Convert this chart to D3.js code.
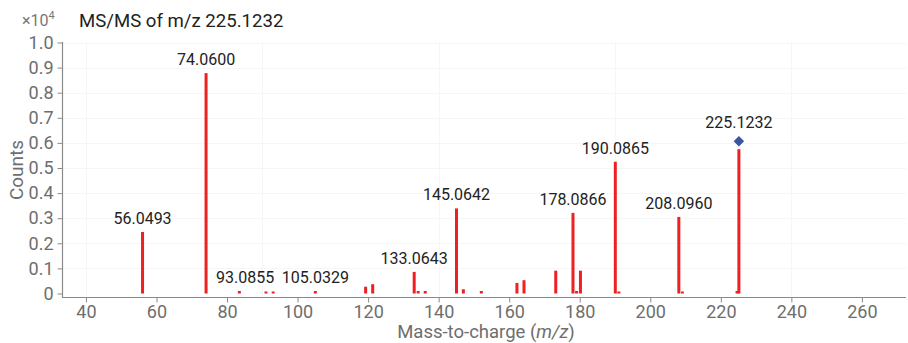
<!DOCTYPE html>
<html><head><meta charset="utf-8">
<script src="https://cdn.jsdelivr.net/npm/d3@7"></script>
<style>
html,body{margin:0;padding:0;background:#fff;}
text{font-family:Roboto,"Noto Sans",sans-serif;}
</style></head>
<body><svg id="c" width="908" height="343"></svg>
<script>
// m/z of each peak
const peakMz = [56.0493, 74.0600, 83.5, 91.05, 93.0855, 105.0329, 119.3, 121.3, 133.0643, 134.2, 136.2,
  145.0642, 147.0, 152.1, 162.2, 164.2, 173.2, 178.0866, 179.1, 180.2, 190.0865, 191.1, 208.0960, 209.1, 224.6, 225.1232];
// intensity (x10^4 counts)
const peakCounts = [0.245, 0.878, 0.010, 0.008, 0.008, 0.010, 0.027, 0.037, 0.086, 0.010, 0.010,
  0.339, 0.017, 0.010, 0.042, 0.053, 0.091, 0.321, 0.010, 0.091, 0.525, 0.008, 0.305, 0.008, 0.010, 0.575];
const labelledMz = [56.0493, 74.0600, 93.0855, 105.0329, 133.0643, 145.0642, 178.0866, 190.0865, 208.0960, 225.1232];
const precursorMz = 225.1232;
const xTicks = [40, 60, 80, 100, 120, 140, 160, 180, 200, 220, 240, 260];
const yTicks = [0, 0.1, 0.2, 0.3, 0.4, 0.5, 0.6, 0.7, 0.8, 0.9, 1.0];
const xDomain = [33.5, 272.5];
const yDomain = [0, 1.0];

const svg = d3.select("#c");
const x = d3.scaleLinear().domain(xDomain).range([63, 906]);
const y = d3.scaleLinear().domain(yDomain).range([293.5, 42.5]);
const axisY = 297.5;
const peaks = peakMz.map((m, i) => ({mz: m, c: peakCounts[i]}));

// faint grid
const g = svg.append("g");
g.selectAll("line.h").data(yTicks.slice(1)).join("line")
  .attr("x1", 63).attr("x2", 906).attr("y1", d => Math.round(y(d)) + 0.5).attr("y2", d => Math.round(y(d)) + 0.5)
  .attr("stroke", "#f6f6f6");
g.selectAll("line.v").data([40, 90, 140, 190, 240]).join("line")
  .attr("y1", 42).attr("y2", axisY).attr("x1", d => Math.round(x(d)) + 0.5).attr("x2", d => Math.round(x(d)) + 0.5)
  .attr("stroke", "#f6f6f6");

// axes
const axisColor = "#8a8a8a", tickText = "#6e6e6e";
const xa = svg.append("g").attr("transform", `translate(0,${axisY})`)
  .call(d3.axisBottom(x).tickValues(xTicks).tickSize(5).tickPadding(3).tickFormat(d3.format("d")));
const ya = svg.append("g").attr("transform", "translate(62.5,0)")
  .call(d3.axisLeft(y).tickValues(yTicks).tickSize(5).tickPadding(4)
    .tickFormat(d => d === 0 ? "0" : d3.format(".1f")(d)));
[xa, ya].forEach(a => {
  a.select(".domain").remove();
  a.selectAll(".tick line").attr("stroke", axisColor);
  a.selectAll(".tick text").attr("fill", tickText).style("font-size", "18px");
});
svg.append("line").attr("x1", 62.5).attr("x2", 62.5).attr("y1", 42).attr("y2", axisY + 0.5)
  .attr("stroke", axisColor).attr("stroke-width", 1.2);
svg.append("line").attr("x1", 62).attr("x2", 906).attr("y1", axisY).attr("y2", axisY)
  .attr("stroke", axisColor).attr("stroke-width", 1.2);

// bars
svg.append("g").selectAll("rect").data(peaks).join("rect")
  .attr("x", d => x(d.mz) - 1.5).attr("width", 3)
  .attr("y", d => y(d.c)).attr("height", d => y(0) - y(d.c))
  .attr("fill", "#ee2024");

// precursor diamond
const prec = peaks.find(p => p.mz === precursorMz);
const dy = y(prec.c) - 8;
svg.append("path").attr("d", d3.symbol(d3.symbolDiamond2, 70)())
  .attr("transform", `translate(${x(prec.mz)},${dy})`).attr("fill", "#3b55a3");

// labels
const endAnchored = [93.0855];
svg.append("g").selectAll("text").data(peaks.filter(p => labelledMz.includes(p.mz))).join("text")
  .attr("x", d => x(d.mz) + (endAnchored.includes(d.mz) ? 1 : 0))
  .attr("y", d => (d.mz === precursorMz ? dy - 5 : y(d.c)) - 8)
  .attr("text-anchor", d => endAnchored.includes(d.mz) ? "end" : "middle")
  .attr("fill", "#222").style("font-size", "16px")
  .text(d => d.mz.toFixed(4));

// title & multiplier
svg.append("text").attr("x", 79).attr("y", 27).attr("fill", "#222").style("font-size", "18.6px")
  .text("MS/MS of m/z 225.1232");
const mult = svg.append("text").attr("x", 22).attr("y", 26).attr("fill", "#777").style("font-size", "16px");
mult.append("tspan").text("×10");
mult.append("tspan").attr("dy", -7).style("font-size", "11px").text("4");

// axis titles
const xt = svg.append("text").attr("x", 486).attr("y", 338).attr("text-anchor", "middle")
  .attr("fill", "#6e6e6e").style("font-size", "18.5px");
xt.append("tspan").text("Mass-to-charge (");
xt.append("tspan").style("font-style", "italic").text("m/z");
xt.append("tspan").text(")");
svg.append("text").attr("transform", "translate(23,170) rotate(-90)").attr("text-anchor", "middle")
  .attr("fill", "#6e6e6e").style("font-size", "19px").text("Counts");
</script></body></html>
